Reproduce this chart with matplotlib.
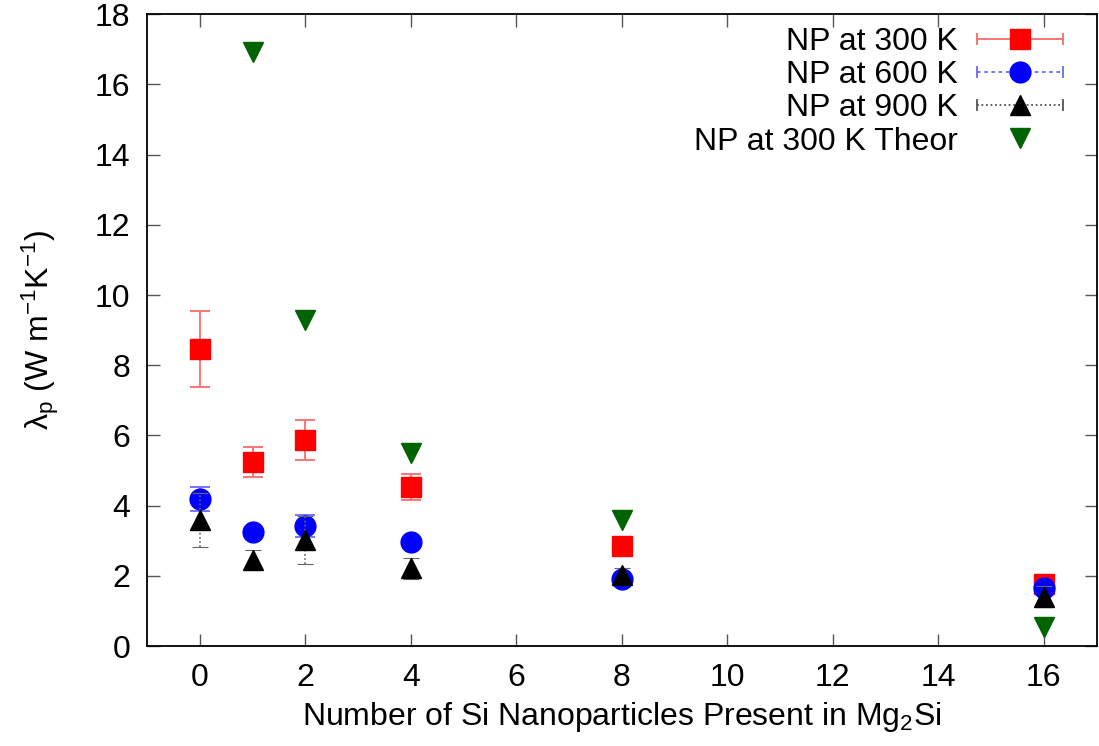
import matplotlib
matplotlib.use("Agg")
from matplotlib import pyplot as plt
from matplotlib.lines import Line2D
from matplotlib.legend_handler import HandlerLine2D, HandlerTuple

# valores
n_np = [0, 1, 2, 4, 8, 16]

k300 = [8.46, 5.24, 5.87, 4.53, 2.85, 1.76]
k300_err = [1.08, 0.43, 0.58, 0.37, 0.0, 0.0]

k600 = [4.19, 3.25, 3.42, 2.96, 1.90, 1.65]
k600_err = [0.34, 0.0, 0.30, 0.0, 0.0, 0.0]

k900 = [3.59, 2.45, 3.02, 2.22, 2.02, 1.40]
k900_err = [0.77, 0.28, 0.68, 0.30, 0.20, 0.30]

np_teor = [1, 2, 4, 8, 16]
k300_teor = [16.92, 9.29, 5.50, 3.59, 0.54]

plt.rcParams['font.family'] = ['Liberation Sans', 'DejaVu Sans']
plt.rcParams['mathtext.fontset'] = 'custom'
plt.rcParams['mathtext.rm'] = 'Liberation Sans'
plt.rcParams['mathtext.it'] = 'Liberation Sans:italic'
plt.rcParams['mathtext.default'] = 'regular'

FS = 23

fig = plt.figure(figsize=(10.99, 7.46), dpi=100)
ax = fig.add_axes([0.1338, 0.134, 0.864, 0.847])

# primero las barras de error, despues los marcadores encima
ax.errorbar(n_np, k300, yerr=k300_err, fmt='none', ecolor='#ff6a6a',
            elinewidth=1.3, capsize=7, capthick=1.3, zorder=1)
ax.plot(n_np, k300, 's', color='red', markersize=15, zorder=2)

eb6 = ax.errorbar(n_np, k600, yerr=k600_err, fmt='none', ecolor='#6a6aff',
                  elinewidth=1.3, capsize=7, capthick=1.3, zorder=2.1)
eb6[2][0].set_linestyle((0, (2, 2)))
ax.plot(n_np, k600, 'o', color='blue', markersize=15, zorder=2.2)

eb9 = ax.errorbar(n_np, k900, yerr=k900_err, fmt='none', ecolor='#666666',
                  elinewidth=1.2, capsize=6, capthick=0.8, zorder=2.3)
eb9[2][0].set_linestyle((0, (1, 1.5)))
ax.plot(n_np, k900, '^', color='black', markersize=14, zorder=2.4)

ax.plot(np_teor, k300_teor, 'v', color='#006400', markersize=14,
        linestyle='none', zorder=2.5)

ax.set_xlim(-1, 17)
ax.set_ylim(0, 18)
ax.set_xticks(range(0, 17, 2))
ax.set_yticks(range(0, 19, 2))
ax.tick_params(direction='in', length=9, width=1, color='#555555',
               top=True, right=True, labelsize=FS, pad=12)
for s in ax.spines.values():
    s.set_linewidth(1.3)

ax.set_xlabel('Number of Si Nanoparticles Present in Mg$_2$Si', fontsize=FS, labelpad=5)
ax.set_ylabel(r'$\lambda_p$ (W m$^{-1}$K$^{-1}$)', fontsize=FS, labelpad=24)

# leyenda al estilo gnuplot: linea horizontal con topes y marcador en el medio
def handle(color, ls, marker, ms):
    barra = Line2D([], [], color=color, linestyle=ls, linewidth=1.3,
                   marker='|', markersize=8, markeredgewidth=1.3)
    punto = Line2D([], [], color=marker[1], marker=marker[0], markersize=ms,
                   linestyle='none')
    return (barra, punto), punto

h1, p1 = handle('#ff6a6a', '-', ('s', 'red'), 15)
h2, p2 = handle('#6a6aff', (0, (2, 2)), ('o', 'blue'), 15)
h3, p3 = handle('#555555', (0, (1, 1.5)), ('^', 'black'), 14)
h4 = Line2D([], [], color='#006400', marker='v', markersize=14, linestyle='none')

hmap = {tuple: HandlerTuple(ndivide=1)}
for p in (p1, p2, p3, h4):
    hmap[p] = HandlerLine2D(numpoints=1)

ax.legend([h1, h2, h3, h4],
          ['NP at 300 K', 'NP at 600 K', 'NP at 900 K', 'NP at 300 K Theor'],
          handler_map=hmap, numpoints=2, loc='upper right', markerfirst=False,
          frameon=False, fontsize=FS, handlelength=3.3, labelspacing=0.1,
          handletextpad=0.3, borderaxespad=0.0, bbox_to_anchor=(0.988, 1.0))

fig.savefig('out.png', dpi=100)
